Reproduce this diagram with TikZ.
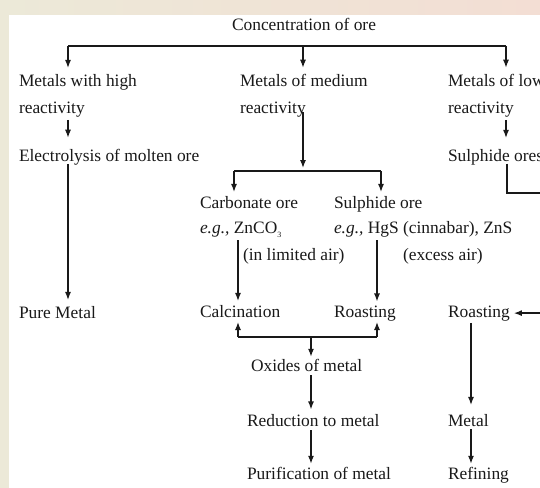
\documentclass[tikz,border=0pt]{standalone}
\usepackage{fontspec}
\setmainfont{Liberation Serif}
\usetikzlibrary{arrows.meta,calc}
\definecolor{ink}{RGB}{25,25,25}
\definecolor{margL}{RGB}{236,233,216}
\definecolor{margR}{RGB}{243,222,212}
\begin{document}
\begin{tikzpicture}[x=1pt,y=-1pt,
  lbl/.style={anchor=base west,inner sep=0pt,outer sep=0pt,font=\fontsize{17.4}{20}\selectfont,text=ink},
  ln/.style={line width=1.25pt,draw=ink},
  arr/.style={ln,-{Latex[length=8pt,width=6pt]}}]
\useasboundingbox (0,0) rectangle (540,487);
\clip (0,0) rectangle (540,487);
\shade[left color=margL,right color=margR] (0,0) rectangle (540,487);
\fill[white] (9,15) rectangle (545,492);

% texts
\node[lbl,anchor=base] (conc) at (304,31) {Concentration of ore};
\node[lbl] (hi1) at (19,86) {Metals with high};
\node[lbl] (hi2) at (19,113) {reactivity};
\node[lbl] (elec) at (19,161) {Electrolysis of molten ore};
\node[lbl] (pure) at (19,318) {Pure Metal};

\node[lbl] (med1) at (240,86) {Metals of medium};
\node[lbl] (med2) at (240,113) {reactivity};
\node[lbl] (carb) at (200,208) {Carbonate ore};
\node[lbl] (sulo) at (334,208) {Sulphide ore};
\node[lbl] (eg1) at (200,233) {\textit{e.g.,} ZnCO\raisebox{-4pt}{\fontsize{8}{8}\selectfont 3}};
\node[lbl] (eg2) at (334,233) {\textit{e.g.,} HgS (cinnabar), ZnS};
\node[lbl] (lim) at (243,260) {(in limited air)};
\node[lbl] (exc) at (403,260) {(excess air)};
\node[lbl] (calc) at (200,317) {Calcination};
\node[lbl] (roast) at (334,317) {Roasting};
\node[lbl] (oxi) at (251,371) {Oxides of metal};
\node[lbl] (red) at (247,426) {Reduction to metal};
\node[lbl] (pur) at (247,479) {Purification of metal};

\node[lbl] (low1) at (448,86) {Metals of low};
\node[lbl] (low2) at (448,113) {reactivity};
\node[lbl] (sulr) at (448,161) {Sulphide ores};
\node[lbl] (roast2) at (448,317) {Roasting};
\node[lbl] (metal) at (448,426) {Metal};
\node[lbl] (refin) at (448,479) {Refining};

% top branching
\coordinate (jL) at (68,46);
\coordinate (jM) at (303,46);
\coordinate (jR) at (506,46);
\draw[ln] (jL) -- (jR);
\draw[arr] (jL) -- ($(jL |- hi1.north)+(0,-6)$);
\draw[arr] (jM) -- ($(jM |- med1.north)+(0,-6)$);
\draw[arr] (jR) -- ($(jR |- low1.north)+(0,-6)$);

% left column
\draw[arr] ($(hi2.south -| jL)+(0,3)$) -- ($(elec.north -| jL)+(0,-11)$);
\draw[arr] ($(elec.south -| jL)+(0,-1)$) -- ($(pure.north -| jL)+(0,-6)$);

% middle column
\coordinate (jC) at (303,171);
\coordinate (cA) at (234,171);
\coordinate (cB) at (381,171);
\draw[arr] ($(med2.base -| jC)+(0,-1)$) -- ($(jC)+(0,-3)$);
\draw[ln] (cA) -- (cB);
\draw[arr] (cA) -- ($(cA |- carb.north)+(0,-4)$);
\draw[arr] (cB) -- ($(cB |- sulo.north)+(0,-4)$);
\draw[arr] ($(eg1.base west)+(38,7)$) -- ($(calc.north west)+(38,-4)$);
\draw[arr] ($(eg2.base west)+(43,7)$) -- ($(roast.north west)+(43,-4)$);

\coordinate (bA) at (238,337);
\coordinate (bB) at (377,337);
\coordinate (bC) at (311,337);
\draw[ln] (bA) -- (bB);
\draw[arr] (bA) -- ($(calc.base west)+(38,5)$);
\draw[arr] (bB) -- ($(roast.base west)+(43,5)$);
\draw[arr] (bC) -- ($(bC |- oxi.north)+(0,-2)$);
\draw[arr] ($(oxi.south -| bC)+(0,4)$) -- ($(red.north -| bC)+(0,-4.5)$);
\draw[arr] ($(red.south -| bC)+(0,4)$) -- ($(pur.north -| bC)+(0,-3)$);

% right column
\draw[arr] ($(low2.south -| jR)+(0,3)$) -- ($(sulr.north -| jR)+(0,-11)$);
\coordinate (rA) at (507,193);
\coordinate (rB) at (560,193);
\draw[arr] ($(sulr.south -| rA)+(0,-1)$) -- (rA) -- (rB) -- (rB |- roast2.east) -- ($(roast2.east)+(4,0)$);
\draw[arr] ($(roast2.south west)+(23,2)$) -- ($(metal.north west)+(23,-9)$);
\draw[arr] ($(metal.south west)+(23,3)$) -- ($(refin.north west)+(23,-3)$);
\end{tikzpicture}
\end{document}
